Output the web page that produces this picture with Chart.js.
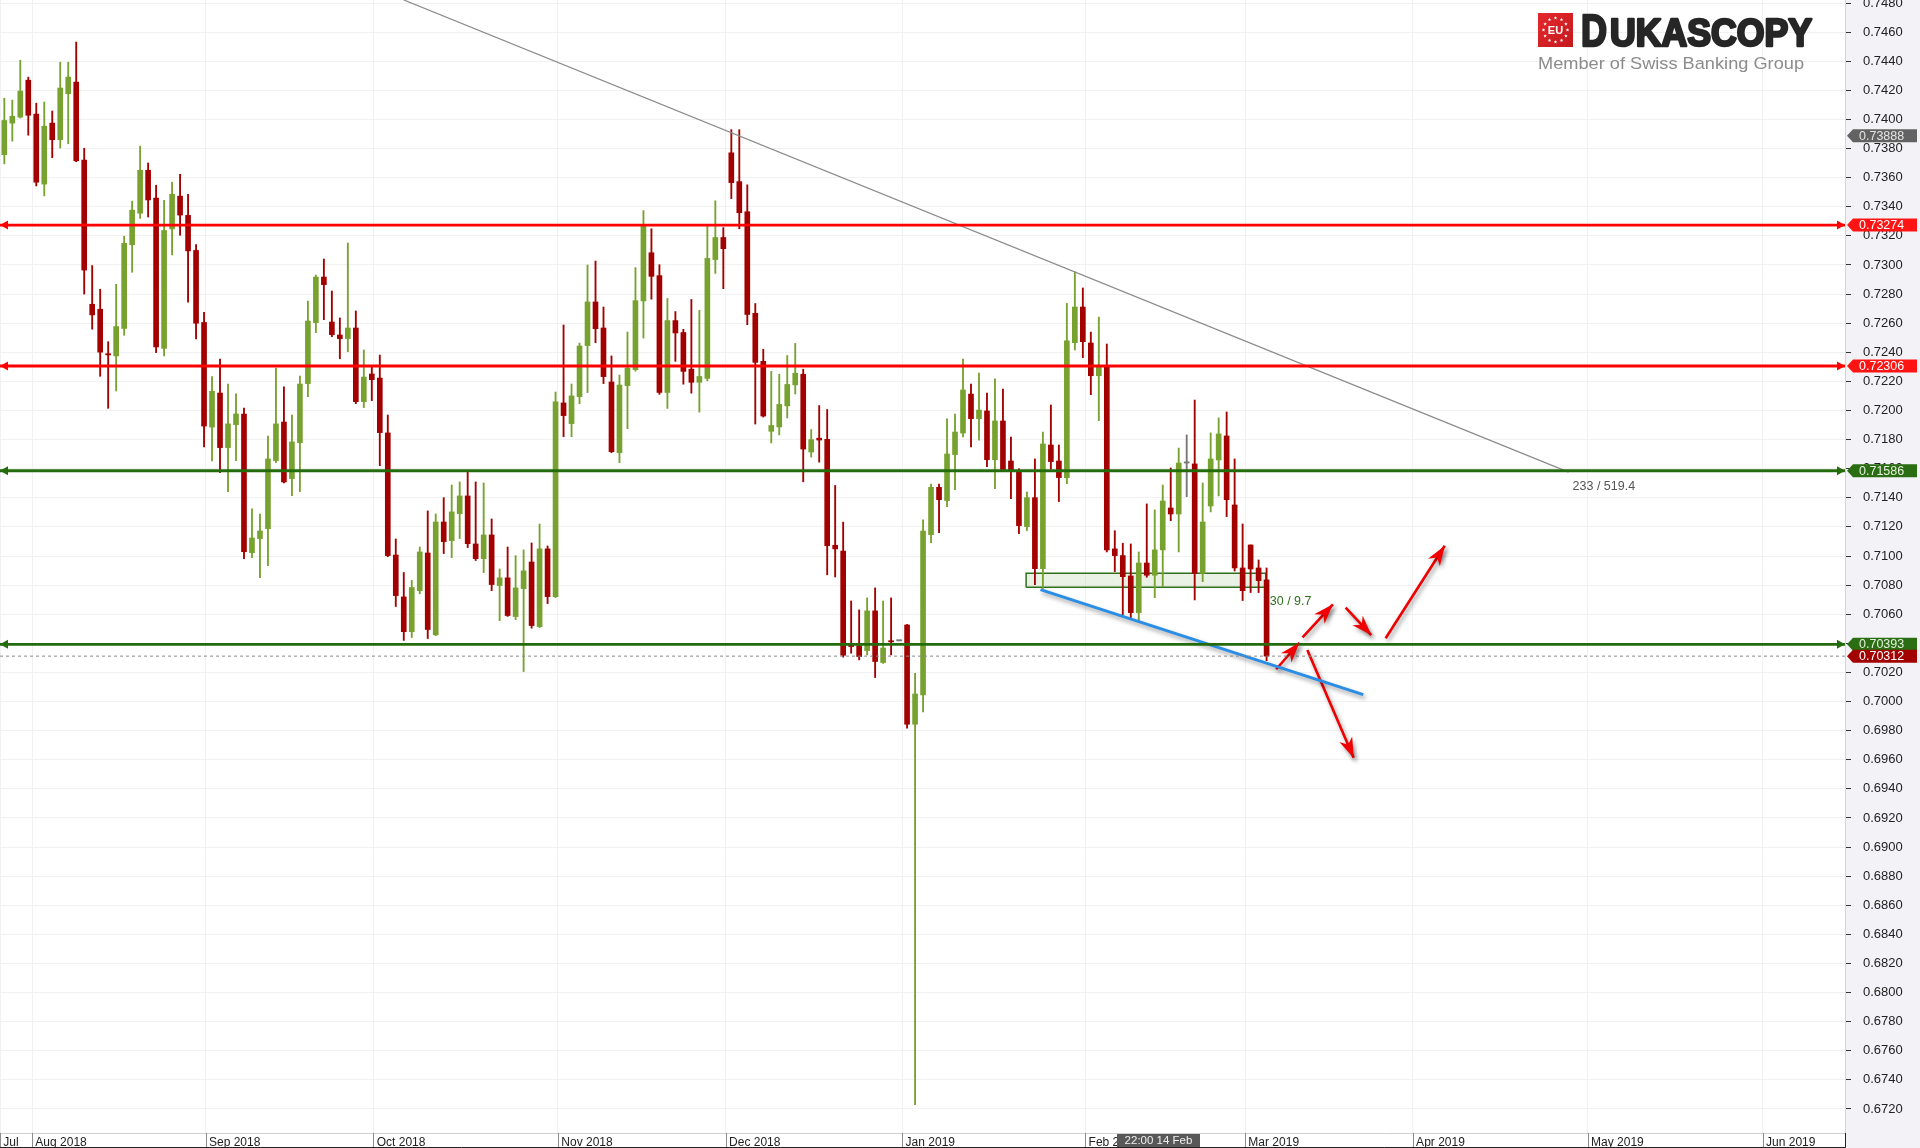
<!DOCTYPE html>
<html>
<head>
<meta charset="utf-8">
<script src="https://cdn.jsdelivr.net/npm/chart.js@4.4.1/dist/chart.umd.min.js"></script>
<style>
html, body { margin: 0; padding: 0; background: #fff; }
canvas { display: block; }
</style>
</head>
<body>
<canvas id="grafica" width="1920" height="1148" style="width:1920px;height:1148px"></canvas>
<script>
// AUD/USD diario, velas (indice de vela = eje x)
const opens = [
	0.73758, 0.73975, 0.74016, 0.74270, 0.74037, 0.73556, 0.73975, 0.73861, 0.74177, 0.74257,
	0.73721, 0.72730, 0.72696, 0.72388, 0.72375, 0.72564, 0.73139, 0.73356, 0.73651, 0.73460,
	0.72427, 0.73248, 0.73473, 0.73341, 0.73100, 0.72605, 0.71886, 0.72120, 0.71745, 0.71903,
	0.71976, 0.71023, 0.71120, 0.71188, 0.71656, 0.71921, 0.71532, 0.71779, 0.72185, 0.72604,
	0.72917, 0.72608, 0.72519, 0.72494, 0.72567, 0.72061, 0.72251, 0.72223, 0.71846, 0.71007,
	0.70719, 0.70480, 0.70762, 0.71021, 0.70458, 0.71234, 0.71106, 0.71291, 0.71413, 0.71083,
	0.70982, 0.71145, 0.70797, 0.70850, 0.70584, 0.70776, 0.70959, 0.70515, 0.71049, 0.70721,
	0.72052, 0.71910, 0.72095, 0.72446, 0.72746, 0.72567, 0.72196, 0.71710, 0.72171, 0.72281,
	0.72753, 0.73084, 0.72927, 0.72124, 0.72618, 0.72536, 0.72284, 0.72194, 0.72221, 0.73037,
	0.73189, 0.73771, 0.73573, 0.73366, 0.72668, 0.72338, 0.71857, 0.71887, 0.72032, 0.72176,
	0.72249, 0.71715, 0.71810, 0.71802, 0.71074, 0.71034, 0.70384, 0.70384, 0.70350, 0.70623,
	0.70268, 0.70417, 0.70417, 0.70526, 0.69844, 0.70046, 0.71147, 0.71472, 0.71381, 0.71697,
	0.71845, 0.72113, 0.71944, 0.71997, 0.71662, 0.71928, 0.71653, 0.71587, 0.71202, 0.71401,
	0.70913, 0.71763, 0.71653, 0.71539, 0.72466, 0.72711, 0.72464, 0.72239, 0.72310, 0.71049,
	0.71003, 0.70863, 0.70611, 0.70952, 0.70868, 0.71042, 0.71330, 0.71289, 0.71639, 0.71633,
	0.70881, 0.71344, 0.71660, 0.71825, 0.71351, 0.70918, 0.71076, 0.70918, 0.70836
];
const highs = [
	0.74146, 0.74133, 0.74407, 0.74291, 0.74112, 0.74120, 0.74058, 0.74394, 0.74394, 0.74532,
	0.73802, 0.72996, 0.72833, 0.72473, 0.72867, 0.73198, 0.73439, 0.73817, 0.73701, 0.73548,
	0.73444, 0.73569, 0.73623, 0.73486, 0.73141, 0.72675, 0.72233, 0.72354, 0.72182, 0.72114,
	0.72017, 0.71324, 0.71289, 0.71825, 0.72292, 0.72162, 0.71969, 0.72237, 0.72752, 0.72931,
	0.73041, 0.72821, 0.72636, 0.73151, 0.72684, 0.72416, 0.72306, 0.72381, 0.71969, 0.71117,
	0.70887, 0.70832, 0.71062, 0.71310, 0.71289, 0.71401, 0.71488, 0.71509, 0.71580, 0.71509,
	0.71502, 0.71255, 0.70911, 0.71062, 0.71003, 0.71042, 0.71090, 0.71220, 0.71069, 0.72127,
	0.72588, 0.72182, 0.72464, 0.73000, 0.73027, 0.72711, 0.72375, 0.72244, 0.72539, 0.72982,
	0.73374, 0.73249, 0.73002, 0.72770, 0.72680, 0.72558, 0.72763, 0.72688, 0.73267, 0.73441,
	0.73257, 0.73930, 0.73930, 0.73551, 0.72735, 0.72421, 0.72269, 0.72249, 0.72378, 0.72461,
	0.72284, 0.71869, 0.72034, 0.72007, 0.71485, 0.71233, 0.70691, 0.70630, 0.70712, 0.70781,
	0.70691, 0.70712, 0.70417, 0.70530, 0.70194, 0.71248, 0.71495, 0.71495, 0.71942, 0.71976,
	0.72354, 0.72182, 0.72258, 0.72120, 0.72217, 0.72148, 0.71818, 0.71600, 0.71440, 0.71667,
	0.71852, 0.72038, 0.71763, 0.72736, 0.72954, 0.72842, 0.72539, 0.72642, 0.72457, 0.71174,
	0.71088, 0.71083, 0.71028, 0.71358, 0.71317, 0.71488, 0.71605, 0.71742, 0.71832, 0.72072,
	0.71502, 0.71846, 0.71949, 0.71990, 0.71667, 0.71220, 0.71076, 0.70973, 0.70918
];
const lows = [
	0.73695, 0.73851, 0.74010, 0.73892, 0.73543, 0.73475, 0.73737, 0.73804, 0.73833, 0.73710,
	0.72800, 0.72559, 0.72235, 0.72015, 0.72134, 0.72517, 0.72950, 0.73320, 0.73330, 0.72398,
	0.72375, 0.73069, 0.73204, 0.72745, 0.72492, 0.71749, 0.71653, 0.71573, 0.71443, 0.71656,
	0.70982, 0.70989, 0.70852, 0.70934, 0.71642, 0.71502, 0.71415, 0.71443, 0.72095, 0.72535,
	0.72624, 0.72507, 0.72356, 0.72404, 0.72047, 0.72020, 0.72068, 0.71621, 0.70995, 0.70653,
	0.70420, 0.70440, 0.70740, 0.70433, 0.70453, 0.71017, 0.70989, 0.71120, 0.71058, 0.70969,
	0.70886, 0.70762, 0.70556, 0.70585, 0.70563, 0.70206, 0.70504, 0.70508, 0.70673, 0.70714,
	0.71820, 0.71820, 0.72047, 0.72123, 0.72466, 0.72185, 0.71710, 0.71642, 0.71875, 0.72270,
	0.72498, 0.72765, 0.72111, 0.72014, 0.72338, 0.72181, 0.72119, 0.71989, 0.72204, 0.72942,
	0.72837, 0.73456, 0.73249, 0.72590, 0.71907, 0.71955, 0.71777, 0.71832, 0.71949, 0.72114,
	0.71510, 0.71680, 0.71645, 0.70871, 0.70856, 0.70305, 0.70332, 0.70286, 0.70320, 0.70165,
	0.70262, 0.70320, 0.70417, 0.69817, 0.67230, 0.69929, 0.71092, 0.71161, 0.71339, 0.71456,
	0.71818, 0.71749, 0.71797, 0.71614, 0.71463, 0.71590, 0.71394, 0.71154, 0.71175, 0.70803,
	0.70775, 0.71596, 0.71374, 0.71497, 0.72416, 0.72363, 0.72109, 0.71930, 0.71028, 0.70893,
	0.70597, 0.70577, 0.70543, 0.70854, 0.70714, 0.70790, 0.71243, 0.71028, 0.71408, 0.70698,
	0.70824, 0.71303, 0.71413, 0.71271, 0.70897, 0.70694, 0.70749, 0.70749, 0.70281
];
const closes = [
	0.73993, 0.74022, 0.74195, 0.74029, 0.73569, 0.73954, 0.73861, 0.74216, 0.74291, 0.73716,
	0.72965, 0.72657, 0.72401, 0.72382, 0.72577, 0.73149, 0.73377, 0.73651, 0.73447, 0.72437,
	0.73237, 0.73486, 0.73343, 0.73097, 0.72600, 0.71893, 0.72132, 0.71745, 0.71908, 0.71976,
	0.71030, 0.71124, 0.71172, 0.71667, 0.71908, 0.71509, 0.71784, 0.72182, 0.72615, 0.72917,
	0.72865, 0.72521, 0.72494, 0.72567, 0.72061, 0.72230, 0.72212, 0.71848, 0.71003, 0.70728,
	0.70480, 0.70784, 0.71028, 0.70495, 0.71234, 0.71099, 0.71303, 0.71413, 0.71085, 0.70982,
	0.71145, 0.70804, 0.70850, 0.70591, 0.70781, 0.70898, 0.70522, 0.71049, 0.70721, 0.72059,
	0.71965, 0.72100, 0.72443, 0.72746, 0.72562, 0.72233, 0.71717, 0.72175, 0.72292, 0.72755,
	0.73267, 0.72922, 0.72124, 0.72618, 0.72533, 0.72269, 0.72194, 0.72234, 0.73045, 0.73189,
	0.73112, 0.73566, 0.73359, 0.72660, 0.72331, 0.71962, 0.71897, 0.72042, 0.72179, 0.72256,
	0.71735, 0.71800, 0.71797, 0.71071, 0.71049, 0.70318, 0.70378, 0.70309, 0.70623, 0.70275,
	0.70368, 0.70410, 0.70417, 0.69844, 0.70052, 0.71172, 0.71472, 0.71387, 0.71701, 0.71852,
	0.72141, 0.71944, 0.72003, 0.71662, 0.71928, 0.71594, 0.71587, 0.71209, 0.71401, 0.70913,
	0.71770, 0.71649, 0.71539, 0.72478, 0.72711, 0.72473, 0.72239, 0.72310, 0.71042, 0.71003,
	0.70858, 0.70611, 0.70952, 0.70868, 0.71042, 0.71378, 0.71289, 0.71639, 0.71639, 0.70881,
	0.71234, 0.71667, 0.71839, 0.71387, 0.70918, 0.70762, 0.70911, 0.70831, 0.70312
];

// eje x: posicion de cada mes en indices de vela
const monthTicks = [-0.54, 3.47, 25.2, 46.2, 69.3, 90.3, 112.4, 135.3, 155.3, 176.3, 198.2, 220.1];
const monthLabels = ['Jul', 'Aug 2018', 'Sep 2018', 'Oct 2018', 'Nov 2018', 'Dec 2018', 'Jan 2019', 'Feb 2019', 'Mar 2019', 'Apr 2019', 'May 2019', 'Jun 2019'];
const priceTicks = [
	0.672, 0.674, 0.676, 0.678, 0.680, 0.682, 0.684, 0.686, 0.688, 0.690,
	0.692, 0.694, 0.696, 0.698, 0.700, 0.702, 0.704, 0.706, 0.708, 0.710,
	0.712, 0.714, 0.716, 0.718, 0.720, 0.722, 0.724, 0.726, 0.728, 0.730,
	0.732, 0.734, 0.736, 0.738, 0.740, 0.742, 0.744, 0.746, 0.748
];

// niveles horizontales
const resistencias = [0.73274, 0.72306];
const soportes = [0.71586, 0.70393];
const ultimoPrecio = 0.70312;
const precioMarcado = 0.73888;

// lineas dibujadas
const tendenciaX = [50.0, 195.8];
const tendenciaY = [0.74821, 0.71577];
const tendenciaTexto = '233 / 519.4';
const soporteAzulX = [129.7, 170.1];
const soporteAzulY = [0.70769, 0.70048];
const zonaX = [127.9, 157.9];
const zonaY = [0.70785, 0.70881];
const zonaTexto = '30 / 9.7';
const flechasX0 = [159.2, 162.5, 167.9, 172.9, 163.1];
const flechasY0 = [0.70222, 0.70441, 0.70645, 0.70435, 0.70354];
const flechasX1 = [162.1, 166.3, 171.1, 180.3, 168.9];
const flechasY1 = [0.70404, 0.70668, 0.70457, 0.71071, 0.69614];

const xMin = -0.54, xMax = 230.4;
const yMin = 0.67035, yMax = 0.74821;

const verde = '#78a22f', rojo = '#a30000', gris = '#777777';
const rojoNivel = '#ff0000', verdeNivel = '#246b0d';

let cuerpos = [], mechas = [], colores = [];
for (let i = 0; i < opens.length; i++) {
	cuerpos.push({x: i, y: [opens[i], closes[i]]});
	mechas.push({x: i, y: [lows[i], highs[i]]});
	colores.push(closes[i] > opens[i] ? verde : (closes[i] < opens[i] ? rojo : gris));
}

function linea(x0, y0, x1, y1, color, ancho, extra) {
	return Object.assign({
		type: 'line',
		data: [{x: x0, y: y0}, {x: x1, y: y1}],
		borderColor: color,
		borderWidth: ancho,
		pointRadius: 0,
		fill: false,
		tension: 0,
		order: 0
	}, extra || {});
}

let datasets = [];
datasets.push({
	type: 'bar', data: cuerpos, backgroundColor: colores, borderWidth: 0,
	barThickness: 5, minBarLength: 1.2, grouped: false, order: 2
});
datasets.push({
	type: 'bar', data: mechas, backgroundColor: colores, borderWidth: 0,
	barThickness: 1.2, grouped: false, order: 3
});
datasets.push({
	type: 'line',
	data: [
		{x: zonaX[0], y: zonaY[0]}, {x: zonaX[1], y: zonaY[0]},
		{x: zonaX[1], y: zonaY[1]}, {x: zonaX[0], y: zonaY[1]}, {x: zonaX[0], y: zonaY[0]}
	],
	borderColor: '#2f6f1c', borderWidth: 1.5, backgroundColor: 'rgba(170, 205, 150, 0.25)',
	fill: 'shape', pointRadius: 0, tension: 0, order: 4
});
resistencias.forEach(p => datasets.push(linea(xMin, p, xMax, p, rojoNivel, 2.8)));
soportes.forEach(p => datasets.push(linea(xMin, p, xMax, p, verdeNivel, 2.8)));
datasets.push(linea(xMin, ultimoPrecio, xMax, ultimoPrecio, '#8a8a8a', 1, {borderDash: [3, 3]}));
datasets.push(linea(tendenciaX[0], tendenciaY[0], tendenciaX[1], tendenciaY[1], '#8c8c8c', 1.3));
datasets.push(linea(soporteAzulX[0], soporteAzulY[0], soporteAzulX[1], soporteAzulY[1], '#2a8de6', 3, {sombra: true}));
for (let k = 0; k < flechasX0.length; k++) {
	datasets.push(linea(flechasX0[k], flechasY0[k], flechasX1[k], flechasY1[k], '#f00000', 2.6, {sombra: true}));
}

function sombra(c) {
	c.shadowColor = 'rgba(0, 0, 0, 0.38)';
	c.shadowBlur = 4;
	c.shadowOffsetX = 2;
	c.shadowOffsetY = 3;
}

function textoAjustado(c, txt, x, y, ancho, grueso) {
	const w = c.measureText(txt).width;
	c.save();
	c.translate(x, y);
	c.scale(ancho / w, 1);
	if (grueso) {
		c.lineWidth = grueso;
		c.lineJoin = 'round';
		c.strokeText(txt, 0, 0);
	}
	c.fillText(txt, 0, 0);
	c.restore();
}

function etiqueta(c, y, txt, fondo, tinta) {
	c.save();
	c.fillStyle = fondo;
	c.beginPath();
	c.moveTo(1847, y);
	c.lineTo(1853, y - 6.5);
	c.lineTo(1917, y - 6.5);
	c.lineTo(1917, y + 6.5);
	c.lineTo(1853, y + 6.5);
	c.closePath();
	c.fill();
	c.fillStyle = tinta;
	c.font = '12.5px "Liberation Sans"';
	c.textAlign = 'left';
	c.textBaseline = 'middle';
	c.fillText(txt, 1859, y + 0.5);
	c.restore();
}

function estrella(c, cx, cy, r) {
	c.beginPath();
	for (let k = 0; k < 10; k++) {
		const rr = k % 2 === 0 ? r : r * 0.45;
		const a = -Math.PI / 2 + k * Math.PI / 5;
		c.lineTo(cx + rr * Math.cos(a), cy + rr * Math.sin(a));
	}
	c.closePath();
	c.fill();
}

const decoracion = {
	id: 'decoracion',
	beforeDraw(chart) {
		const c = chart.ctx, a = chart.chartArea;
		c.save();
		c.fillStyle = '#ffffff';
		c.fillRect(0, 0, chart.width, chart.height);
		c.fillStyle = '#f3f3f7';
		c.fillRect(a.right, 0, chart.width - a.right, chart.height);
		c.restore();
	},
	beforeDatasetDraw(chart, args) {
		if (chart.data.datasets[args.index].sombra) {
			chart.ctx.save();
			sombra(chart.ctx);
		}
	},
	afterDatasetDraw(chart, args) {
		if (chart.data.datasets[args.index].sombra) {
			chart.ctx.restore();
		}
	},
	afterDatasetsDraw(chart) {
		const c = chart.ctx, a = chart.chartArea;
		const xs = chart.scales.x, ys = chart.scales.y;
		// puntas de flecha rojas
		c.save();
		sombra(c);
		c.fillStyle = '#f00000';
		for (let k = 0; k < flechasX0.length; k++) {
			const x0 = xs.getPixelForValue(flechasX0[k]), y0 = ys.getPixelForValue(flechasY0[k]);
			const x1 = xs.getPixelForValue(flechasX1[k]), y1 = ys.getPixelForValue(flechasY1[k]);
			const ang = Math.atan2(y1 - y0, x1 - x0);
			const ca = Math.cos(ang), sa = Math.sin(ang);
			const L = 20, W = 7, N = 14;
			c.beginPath();
			c.moveTo(x1, y1);
			c.lineTo(x1 - L * ca + W * sa, y1 - L * sa - W * ca);
			c.lineTo(x1 - N * ca, y1 - N * sa);
			c.lineTo(x1 - L * ca - W * sa, y1 - L * sa + W * ca);
			c.closePath();
			c.fill();
		}
		c.restore();
		// puntas de los niveles
		c.save();
		const niveles = resistencias.map(p => [p, rojoNivel]).concat(soportes.map(p => [p, verdeNivel]));
		niveles.forEach(n => {
			const y = ys.getPixelForValue(n[0]);
			c.fillStyle = n[1];
			c.beginPath();
			c.moveTo(a.left, y); c.lineTo(a.left + 8, y - 4.5); c.lineTo(a.left + 8, y + 4.5);
			c.closePath(); c.fill();
			c.beginPath();
			c.moveTo(a.right, y); c.lineTo(a.right - 8, y - 4.5); c.lineTo(a.right - 8, y + 4.5);
			c.closePath(); c.fill();
		});
		// textos de las herramientas
		c.font = '12.5px "Liberation Sans"';
		c.textAlign = 'left';
		c.textBaseline = 'middle';
		c.fillStyle = '#555555';
		c.fillText(tendenciaTexto, xs.getPixelForValue(tendenciaX[1]) + 4, ys.getPixelForValue(tendenciaY[1]) + 14);
		c.fillStyle = '#2f6f1c';
		c.fillText(zonaTexto, xs.getPixelForValue(zonaX[1]) + 4, ys.getPixelForValue(zonaY[0]) + 14);
		c.restore();
	},
	afterDraw(chart) {
		const c = chart.ctx, a = chart.chartArea;
		const xs = chart.scales.x, ys = chart.scales.y;
		// separadores del eje x
		c.save();
		c.strokeStyle = '#8c8c8c';
		c.lineWidth = 1;
		monthTicks.forEach(v => {
			const x = Math.round(xs.getPixelForValue(v)) + 0.5;
			c.beginPath(); c.moveTo(x, a.bottom); c.lineTo(x, chart.height); c.stroke();
		});
		c.strokeStyle = '#222222';
		c.beginPath(); c.moveTo(0, chart.height - 0.5); c.lineTo(a.right + 0.5, chart.height - 0.5);
		c.lineTo(a.right + 0.5, a.bottom); c.stroke();
		// caja de fecha
		c.fillStyle = '#585858';
		c.fillRect(1117, a.bottom + 1, 83, chart.height - a.bottom - 2);
		c.fillStyle = '#f0f0f0';
		c.font = '11.5px "Liberation Sans"';
		c.textAlign = 'center';
		c.textBaseline = 'middle';
		c.fillText('22:00 14 Feb', 1158.5, a.bottom + 8);
		c.restore();
		// etiquetas de precio
		etiqueta(c, ys.getPixelForValue(precioMarcado), precioMarcado.toFixed(5), '#626262', '#e4e4e4');
		resistencias.forEach(p => etiqueta(c, ys.getPixelForValue(p), p.toFixed(5), '#ff1414', '#ffffff'));
		soportes.forEach(p => etiqueta(c, ys.getPixelForValue(p), p.toFixed(5), '#2a6d12', '#e6f0de'));
		etiqueta(c, ys.getPixelForValue(ultimoPrecio), ultimoPrecio.toFixed(5), '#a30000', '#ffffff');
		// logo
		c.save();
		const g = c.createLinearGradient(1538, 13, 1573, 47);
		g.addColorStop(0, '#e4282c');
		g.addColorStop(1, '#c41a1f');
		c.fillStyle = g;
		c.fillRect(1538, 13, 35, 34);
		c.fillStyle = '#ffffff';
		for (let k = 0; k < 12; k++) {
			const ang = k * Math.PI / 6;
			estrella(c, 1555.5 + 12 * Math.cos(ang), 30 + 12 * Math.sin(ang), 1.8);
		}
		c.font = 'bold 11px "Liberation Sans"';
		c.textAlign = 'center';
		c.textBaseline = 'middle';
		c.fillText('EU', 1555.5, 30.5);
		c.textAlign = 'left';
		c.textBaseline = 'alphabetic';
		c.fillStyle = '#262626';
		c.strokeStyle = '#262626';
		c.font = 'bold 45px "Liberation Sans"';
		textoAjustado(c, 'D', 1581, 46, 26, 2.6);
		c.font = 'bold 38px "Liberation Sans"';
		textoAjustado(c, 'UKASCOPY', 1610, 46, 202, 2.6);
		c.fillStyle = '#8c8c8c';
		c.font = '17px "Liberation Sans"';
		textoAjustado(c, 'Member of Swiss Banking Group', 1538, 69, 266);
		c.restore();
	}
};

new Chart(document.getElementById('grafica'), {
	type: 'bar',
	data: { datasets: datasets },
	options: {
		responsive: false,
		animation: false,
		devicePixelRatio: 1,
		layout: { padding: 0 },
		plugins: { legend: { display: false }, tooltip: { enabled: false } },
		scales: {
			x: {
				type: 'linear', position: 'bottom', min: xMin, max: xMax, offset: false,
				afterFit: s => { s.height = 15; s.paddingLeft = 0; s.paddingRight = 0; },
				afterBuildTicks: s => { s.ticks = monthTicks.map(v => ({value: v})); },
				grid: { color: '#f1f1f1', offset: false, drawTicks: false },
				border: { color: '#cfcfcf' },
				ticks: {
					autoSkip: false, maxRotation: 0, align: 'start', padding: 2,
					color: '#222222', font: { family: 'Liberation Sans', size: 12 },
					callback: (v, i) => ' ' + monthLabels[i]
				}
			},
			y: {
				type: 'linear', position: 'right', min: yMin, max: yMax,
				afterFit: s => { s.width = 75; s.paddingTop = 0; s.paddingBottom = 0; },
				afterBuildTicks: s => { s.ticks = priceTicks.map(v => ({value: v})); },
				grid: { color: '#f1f1f1', tickColor: '#333333', tickLength: 6 },
				border: { color: '#d4d4d4' },
				ticks: {
					padding: 12, color: '#222222', font: { family: 'Liberation Sans', size: 13 },
					callback: v => Number(v).toFixed(4)
				}
			}
		}
	},
	plugins: [decoracion]
});
</script>
</body>
</html>
